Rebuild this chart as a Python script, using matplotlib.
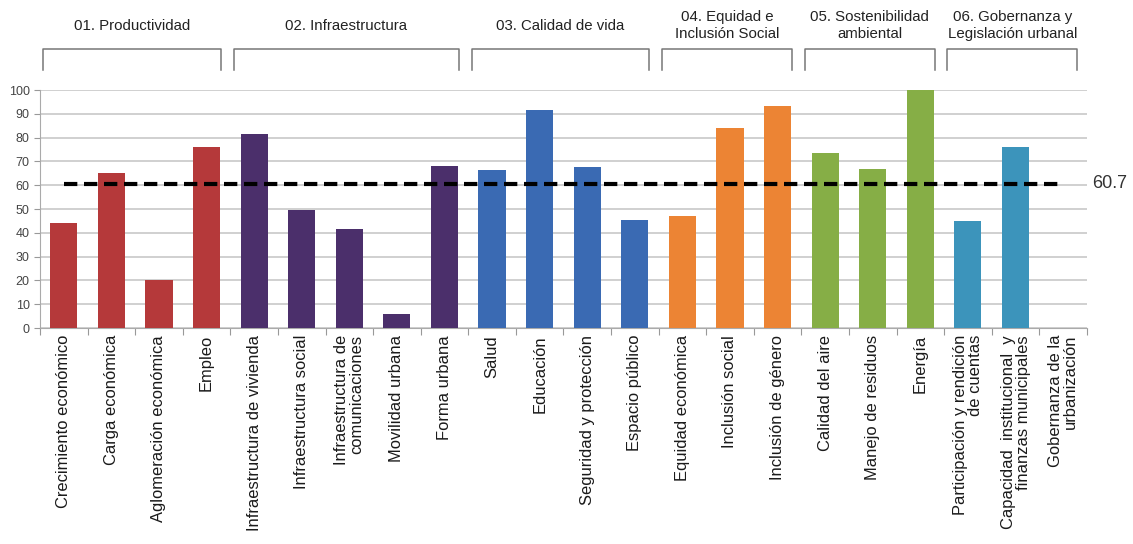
import matplotlib.pyplot as plt
import numpy as np

plt.rcParams['font.family'] = ['Liberation Sans', 'DejaVu Sans']

categories = [
    "Crecimiento económico", "Carga económica", "Aglomeración económica", "Empleo",
    "Infraestructura de vivienda", "Infraestructura social",
    "Infraestructura de\ncomunicaciones", "Movilidad urbana", "Forma urbana",
    "Salud", "Educación", "Seguridad y protección", "Espacio público",
    "Equidad económica", "Inclusión social", "Inclusión de género",
    "Calidad del aire", "Manejo de residuos", "Energía",
    "Participación y rendición\nde cuentas",
    "Capacidad  institucional  y\nfinanzas municipales",
    "Gobernanza de la\nurbanización",
]
values = [44, 65, 20, 76,
          81.5, 49.5, 41.5, 6, 68,
          66.5, 91.5, 67.5, 45.5,
          47, 84, 93.3,
          73.5, 67, 100,
          45, 76, np.nan]

groups = ["01. Productividad", "02. Infraestructura", "03. Calidad de vida",
          "04. Equidad e\nInclusión Social", "05. Sostenibilidad\nambiental",
          "06. Gobernanza y\nLegislación urbanal"]
group_sizes = [4, 5, 4, 3, 3, 3]
group_colors = ["#b5393a", "#4b2f6b", "#3a6ab3", "#ec8434", "#86ae46", "#3c94bb"]
average = 60.7

colors = []
for c, n in zip(group_colors, group_sizes):
    colors += [c] * n

fig = plt.figure(figsize=(11.33, 5.44), dpi=100)
ax = fig.add_axes([0.0353, 0.397, 0.924, 0.4375])

x = np.arange(len(categories))
ax.bar(x, values, width=0.57, color=colors, zorder=3)

ax.set_xlim(-0.5, len(categories) - 0.5)
ax.set_ylim(0, 100)
ax.set_yticks(range(0, 101, 10))
ax.grid(axis='y', color='#c4c4c4', linewidth=1.1, zorder=0)
ax.tick_params(axis='y', labelsize=9, length=4, width=0.8, color='#999999')
for lab in ax.get_yticklabels():
    lab.set_color('#444444')

ax.set_xticks(x)
ax.set_xticklabels(categories, rotation=90, fontsize=11.9, ha='center', va='top',
                   multialignment='right', linespacing=1.0, color='#1a1a1a')
ax.tick_params(axis='x', length=0, pad=5)
ax.set_xticks(np.arange(-0.5, len(categories)), minor=True)
ax.tick_params(axis='x', which='minor', length=5, width=0.8, color='#999999')

for s in ['top', 'right']:
    ax.spines[s].set_visible(False)
for s in ['left', 'bottom']:
    ax.spines[s].set_color('#aaaaaa')

ax.plot([x[0], x[-1]], [average, average], color='black', linewidth=3,
        dashes=(3.2, 1.6), zorder=4)
ax.text(len(categories) - 0.38, average, f"{average}", fontsize=13,
        color='#333333', va='center', ha='left')

# group brackets above the plot
tr = ax.get_xaxis_transform()
start = 0
for name, n in zip(groups, group_sizes):
    left = start - 0.43
    right = start + n - 1 + 0.3
    ax.plot([left, left, right, right], [1.084, 1.172, 1.172, 1.084],
            transform=tr, clip_on=False, color='#777777', linewidth=1.1)
    ax.text((left + right) / 2, 1.27, name, transform=tr, ha='center',
            va='center', fontsize=10.8, color='#222222', linespacing=1.3)
    start += n

fig.savefig("out.png", dpi=100)
